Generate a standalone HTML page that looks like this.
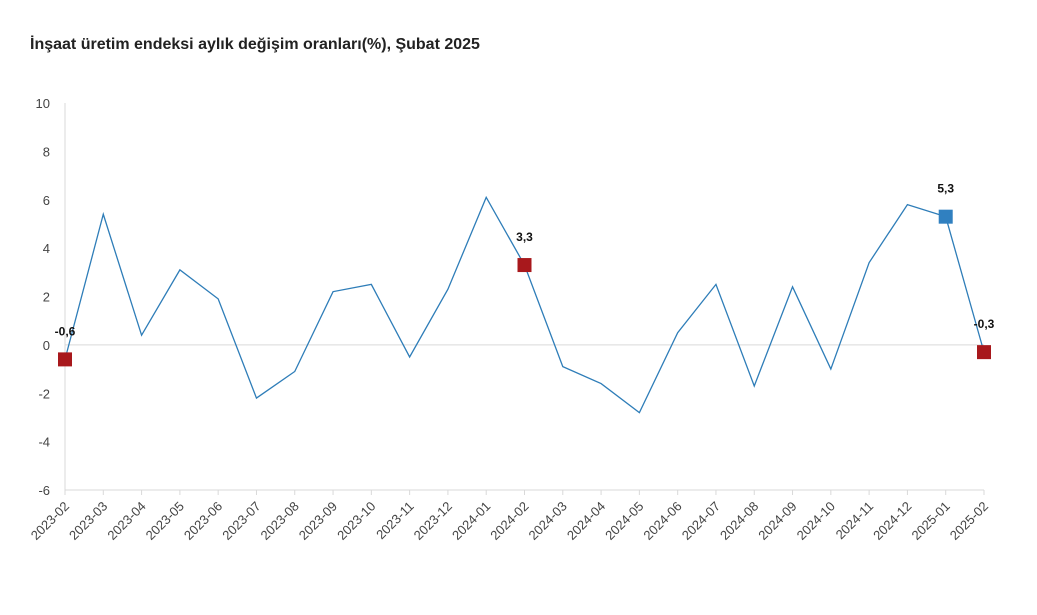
<!DOCTYPE html>
<html><head><meta charset="utf-8">
<style>
html,body{margin:0;padding:0;background:#fff;}
body{width:1037px;height:610px;overflow:hidden;font-family:"Liberation Sans",sans-serif;}
</style></head>
<body>
<svg width="1037" height="610">
<text x="30" y="49" font-size="16" font-weight="bold" fill="#222">İnşaat üretim endeksi aylık değişim oranları(%), Şubat 2025</text>
<g id="axes"></g>
<g id="marks"></g>
</svg>
<script>
const categories=["2023-02","2023-03","2023-04","2023-05","2023-06","2023-07","2023-08","2023-09","2023-10","2023-11","2023-12","2024-01","2024-02","2024-03","2024-04","2024-05","2024-06","2024-07","2024-08","2024-09","2024-10","2024-11","2024-12","2025-01","2025-02"];
const values=[-0.6,5.4,0.4,3.1,1.9,-2.2,-1.1,2.2,2.5,-0.5,2.3,6.1,3.3,-0.9,-1.6,-2.8,0.5,2.5,-1.7,2.4,-1.0,3.4,5.8,5.3,-0.3];
const yTicks=[10,8,6,4,2,0,-2,-4,-6];
const highlights=[{i:0,label:"-0,6",color:"#a8181c"},{i:12,label:"3,3",color:"#a8181c"},{i:23,label:"5,3",color:"#3080c0"},{i:24,label:"-0,3",color:"#a8181c"}];
const NS="http://www.w3.org/2000/svg";
const x0=65,x1=984,yTop=103,yBot=490,vMax=10,vMin=-6;
const x=i=>x0+(x1-x0)*i/(categories.length-1);
const y=v=>yTop+(vMax-v)*(yBot-yTop)/(vMax-vMin);
const axes=document.getElementById('axes'),marks=document.getElementById('marks');
function mk(t,a,p){const e=document.createElementNS(NS,t);for(const k in a)e.setAttribute(k,a[k]);p.appendChild(e);return e;}
const yl=mk('line',{x1:x0,x2:x0,y1:yTop,y2:yBot,stroke:'#d9d9d9'},axes);


yTicks.forEach(t=>{
 const tx=mk('text',{x:50,y:y(t)+5,'text-anchor':'end','font-size':13,fill:'#444'},axes);
 tx.textContent=t;
 
 
});
const zl=mk('line',{x1:x0,x2:x1,y1:y(0),y2:y(0),stroke:'#d9d9d9'},axes);


const xl=mk('line',{x1:x0,x2:x1,y1:yBot,y2:yBot,stroke:'#d9d9d9'},axes);


categories.forEach((c,i)=>{
 const tk=mk('line',{x1:x(i),x2:x(i),y1:yBot,y2:yBot+5,stroke:'#d9d9d9'},axes);
 
 
 const ax=x(i)+5,ay=yBot+17;
 const tx=mk('text',{x:ax,y:ay,'text-anchor':'end','font-size':13,fill:'#444',transform:`rotate(-45 ${ax} ${ay})`},axes);
 tx.textContent=c;
 
 
});
const pts=values.map((v,i)=>x(i)+','+y(v)).join(' ');
const pl=mk('polyline',{points:pts,fill:'none',stroke:'#2e7db8','stroke-width':1.3},marks);


highlights.forEach(h=>{
 const cx=x(h.i),cy=y(values[h.i]);
 const r=mk('rect',{x:cx-7,y:cy-7,width:14,height:14,fill:h.color},marks);
 
 
 const t=mk('text',{x:cx,y:cy-24,'text-anchor':'middle','font-size':12,'font-weight':'bold',fill:'#111'},marks);
 t.textContent=h.label;
 
 
});
</script>
</body></html>
